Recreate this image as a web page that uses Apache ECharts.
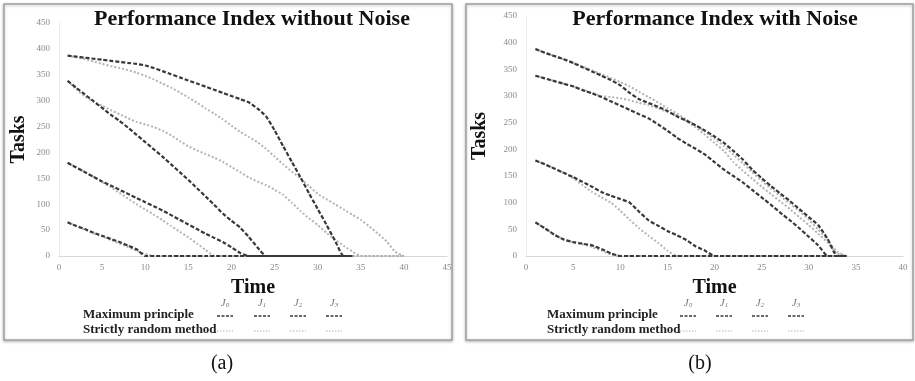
<!DOCTYPE html>
<html>
<head>
<meta charset="utf-8">
<script src="https://cdn.jsdelivr.net/npm/echarts@6/dist/echarts.min.js"></script>
<style>
  html, body { margin: 0; padding: 0; background: #fff; }
  #main { width: 915px; height: 381px; }
</style>
</head>
<body>
<div id="main"></div>
<script>
'use strict';
// ---- data: (a) without noise, time 1..34 (max principle) and 1..40 (random)
var timeA = [];
for (var i = 1; i <= 40; i++) timeA.push(i);
var timeB = [];
for (var k = 1; k <= 34; k++) timeB.push(k);

var maxA_J0 = [65, 58, 52, 45, 39, 33, 27, 20, 13, 0, 0, 0, 0, 0, 0, 0, 0, 0, 0, 0, 0, 0, 0, 0, 0, 0, 0, 0, 0, 0, 0, 0, 0, 0];
var maxA_J1 = [180, 171, 162, 153, 144, 136, 128, 120, 112, 104, 96, 88, 79, 70, 61, 52, 43, 35, 27, 17, 6, 0, 0, 0, 0, 0, 0, 0, 0, 0, 0, 0, 0, 0];
var maxA_J2 = [338, 325, 312, 299, 286, 273, 261, 248, 234, 220, 206, 192, 177, 162, 147, 131, 115, 99, 82, 68, 55, 37, 17, 0, 0, 0, 0, 0, 0, 0, 0, 0, 0, 0];
var maxA_J3 = [387, 385, 383, 381, 379, 377, 375, 373, 371, 368, 363, 357, 351, 345, 339, 333, 327, 321, 315, 309, 303, 297, 285, 270, 243, 212, 182, 152, 121, 91, 61, 30, 0, 0];

var rndA_J0 = [65, 58, 51, 44, 38, 31, 24, 17, 10, 4, 0, 0, 0, 0, 0, 0, 0, 0, 0, 0, 0, 0, 0, 0, 0, 0, 0, 0, 0, 0, 0, 0, 0, 0, 0, 0, 0, 0, 0, 0];
var rndA_J1 = [180, 171, 162, 153, 143, 133, 122, 111, 100, 90, 80, 69, 58, 47, 36, 24, 12, 0, 0, 0, 0, 0, 0, 0, 0, 0, 0, 0, 0, 0, 0, 0, 0, 0, 0, 0, 0, 0, 0, 0];
var rndA_J2 = [338, 322, 308, 298, 290, 282, 274, 266, 259, 254, 249, 242, 233, 222, 212, 204, 197, 190, 182, 172, 162, 152, 144, 137, 128, 118, 103, 87, 73, 60, 45, 32, 20, 9, 0, 0, 0, 0, 0, 0];
var rndA_J3 = [387, 384, 380, 376, 371, 367, 363, 359, 354, 348, 341, 333, 325, 316, 306, 296, 285, 275, 264, 252, 240, 230, 220, 207, 192, 177, 163, 150, 135, 120, 110, 100, 90, 80, 70, 57, 43, 28, 8, 0];

// ---- data: (b) with noise, time 1..34
var maxB_J0 = [63, 52, 40, 31, 26, 23, 20, 13, 5, 0, 0, 0, 0, 0, 0, 0, 0, 0, 0, 0, 0, 0, 0, 0, 0, 0, 0, 0, 0, 0, 0, 0, 0, 0];
var maxB_J1 = [179, 172, 164, 156, 148, 139, 130, 120, 113, 107, 100, 83, 67, 57, 47, 39, 30, 18, 10, 0, 0, 0, 0, 0, 0, 0, 0, 0, 0, 0, 0, 0, 0, 0];
var maxB_J2 = [338, 333, 328, 323, 318, 311, 305, 298, 290, 282, 274, 266, 258, 247, 235, 222, 211, 201, 190, 176, 162, 150, 138, 124, 110, 96, 81, 67, 52, 36, 20, 0, 0, 0];
var maxB_J3 = [388, 381, 375, 369, 362, 354, 346, 338, 330, 320, 306, 294, 287, 280, 272, 262, 254, 245, 235, 224, 212, 197, 181, 162, 146, 131, 117, 103, 88, 73, 58, 32, 0, 0];

var rndB_J0 = [63, 52, 40, 31, 26, 22, 17, 10, 3, 0, 0, 0, 0, 0, 0, 0, 0, 0, 0, 0, 0, 0, 0, 0, 0, 0, 0, 0, 0, 0, 0, 0, 0, 0];
var rndB_J1 = [179, 172, 164, 156, 146, 133, 120, 110, 100, 85, 68, 52, 38, 25, 10, 0, 0, 0, 0, 0, 0, 0, 0, 0, 0, 0, 0, 0, 0, 0, 0, 0, 0, 0];
var rndB_J2 = [338, 333, 328, 323, 318, 312, 306, 300, 298, 296, 292, 287, 283, 277, 270, 263, 253, 241, 227, 212, 197, 176, 160, 145, 130, 116, 102, 88, 73, 58, 42, 25, 5, 0];
var rndB_J3 = [388, 381, 375, 369, 362, 355, 348, 341, 334, 326, 318, 308, 298, 288, 277, 267, 256, 245, 233, 220, 206, 190, 174, 157, 141, 126, 112, 98, 84, 68, 50, 30, 8, 0];

var xTicksA = { min: 0, max: 45, interval: 5 };
var xTicksB = { min: 0, max: 40, interval: 5 };
var yTicks = { min: 0, max: 450, interval: 50 };

var serif = 'Liberation Serif';
var darkColor = '#383838';
var lightColor = '#b4b4b4';

function pairs(xs, ys) {
  var out = [];
  for (var i = 0; i < ys.length; i++) out.push([xs[i], ys[i]]);
  return out;
}

function lineSeries(name, idx, xs, ys, dark) {
  return {
    name: name,
    type: 'line',
    xAxisIndex: idx,
    yAxisIndex: idx,
    data: pairs(xs, ys),
    showSymbol: false,
    smooth: 0.15,
    z: dark ? 3 : 2,
    lineStyle: dark ?
      { color: darkColor, width: 2.2, type: [4, 2] } :
      { color: lightColor, width: 2, type: [2, 2] }
  };
}

function xAxis(idx, ticks) {
  return {
    type: 'value',
    gridIndex: idx,
    min: ticks.min,
    max: ticks.max,
    interval: ticks.interval,
    name: 'Time',
    nameLocation: 'middle',
    nameGap: 22,
    nameTextStyle: { fontFamily: serif, fontWeight: 'bold', fontSize: 20, color: '#111' },
    axisLine: { lineStyle: { color: '#d8d8d8' } },
    axisTick: { show: false },
    splitLine: { show: false },
    axisLabel: { fontFamily: serif, fontSize: 9, color: '#8a8a8a', margin: 7 }
  };
}

function yAxis(idx, gap) {
  return {
    type: 'value',
    gridIndex: idx,
    min: yTicks.min,
    max: yTicks.max,
    interval: yTicks.interval,
    name: 'Tasks',
    nameLocation: 'middle',
    nameGap: gap,
    nameTextStyle: { fontFamily: serif, fontWeight: 'bold', fontSize: 20, color: '#111' },
    axisLine: { show: true, lineStyle: { color: '#ececec' } },
    axisTick: { show: false },
    splitLine: { show: false },
    axisLabel: { fontFamily: serif, fontSize: 9, color: '#8a8a8a', margin: 9 }
  };
}

// legend drawn as plain graphic pieces under each panel
function legendPieces(x0, cols) {
  var g = [];
  g.push({ type: 'text', x: x0, y: 315, style: { text: 'Maximum principle', font: 'bold 13px ' + serif, fill: '#222', verticalAlign: 'middle' } });
  g.push({ type: 'text', x: x0, y: 330, style: { text: 'Strictly random method', font: 'bold 13px ' + serif, fill: '#222', verticalAlign: 'middle' } });
  for (var i = 0; i < cols.length; i++) {
    var cx = cols[i];
    g.push({ type: 'text', x: cx, y: 303, style: {
      text: '{j|J}{s|' + i + '}', align: 'center', verticalAlign: 'middle',
      rich: {
        j: { fontFamily: serif, fontStyle: 'italic', fontSize: 11, fill: '#777' },
        s: { fontFamily: serif, fontStyle: 'italic', fontSize: 7, fill: '#777', padding: [5, 0, 0, 0] }
      }
    } });
    g.push({ type: 'line', shape: { x1: cx - 8, y1: 316, x2: cx + 8, y2: 316 },
      style: { stroke: darkColor, lineWidth: 1.5, lineDash: [3, 1.5] } });
    g.push({ type: 'line', shape: { x1: cx - 8, y1: 331, x2: cx + 8, y2: 331 },
      style: { stroke: lightColor, lineWidth: 1.2, lineDash: [1.5, 1.5] } });
  }
  return g;
}

var graphics = [
  { type: 'rect', shape: { x: 4, y: 4, width: 448, height: 336 }, z: -10,
    style: { fill: '#fff', stroke: '#a0a0a0', lineWidth: 1.5, shadowBlur: 3, shadowColor: 'rgba(0,0,0,0.25)', shadowOffsetY: 1 } },
  { type: 'rect', shape: { x: 466, y: 4, width: 447, height: 336 }, z: -10,
    style: { fill: '#fff', stroke: '#a0a0a0', lineWidth: 1.5, shadowBlur: 3, shadowColor: 'rgba(0,0,0,0.25)', shadowOffsetY: 1 } },
  { type: 'text', x: 252, y: 19, style: { text: 'Performance Index without Noise', font: 'bold 22px ' + serif, fill: '#111', align: 'center', verticalAlign: 'middle' } },
  { type: 'text', x: 715, y: 19, style: { text: 'Performance Index with Noise', font: 'bold 22px ' + serif, fill: '#111', align: 'center', verticalAlign: 'middle' } },
  { type: 'text', x: 222, y: 364, style: { text: '(a)', font: '20px ' + serif, fill: '#111', align: 'center', verticalAlign: 'middle' } },
  { type: 'text', x: 700, y: 364, style: { text: '(b)', font: '20px ' + serif, fill: '#111', align: 'center', verticalAlign: 'middle' } }
].concat(legendPieces(83, [225, 262, 298, 334])).concat(legendPieces(547, [688, 724, 760, 796]));

var chart = echarts.init(document.getElementById('main'));
chart.setOption({
  backgroundColor: '#fff',
  animation: false,
  grid: [
    { left: 59, right: 468, top: 23, bottom: 125 },
    { left: 526, right: 12, top: 16, bottom: 125 }
  ],
  xAxis: [xAxis(0, xTicksA), xAxis(1, xTicksB)],
  yAxis: [yAxis(0, 30), yAxis(1, 36)],
  graphic: graphics,
  series: [
    lineSeries('rA0', 0, timeA, rndA_J0, false),
    lineSeries('rA1', 0, timeA, rndA_J1, false),
    lineSeries('rA2', 0, timeA, rndA_J2, false),
    lineSeries('rA3', 0, timeA, rndA_J3, false),
    lineSeries('mA0', 0, timeA, maxA_J0, true),
    lineSeries('mA1', 0, timeA, maxA_J1, true),
    lineSeries('mA2', 0, timeA, maxA_J2, true),
    lineSeries('mA3', 0, timeA, maxA_J3, true),
    lineSeries('rB0', 1, timeB, rndB_J0, false),
    lineSeries('rB1', 1, timeB, rndB_J1, false),
    lineSeries('rB2', 1, timeB, rndB_J2, false),
    lineSeries('rB3', 1, timeB, rndB_J3, false),
    lineSeries('mB0', 1, timeB, maxB_J0, true),
    lineSeries('mB1', 1, timeB, maxB_J1, true),
    lineSeries('mB2', 1, timeB, maxB_J2, true),
    lineSeries('mB3', 1, timeB, maxB_J3, true)
  ]
});
</script>
</body>
</html>
